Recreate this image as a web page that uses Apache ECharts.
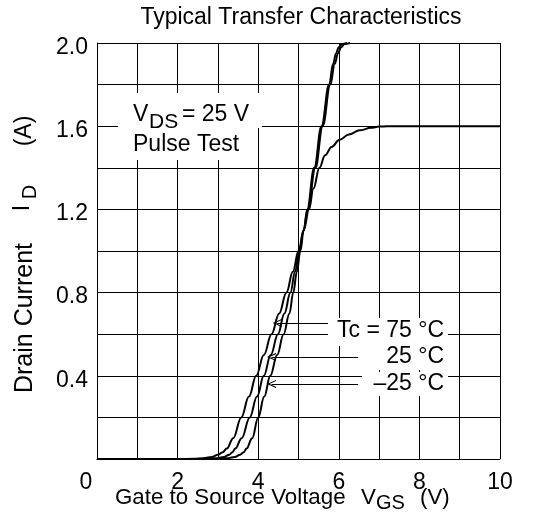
<!DOCTYPE html>
<html><head><meta charset="utf-8">
<script src="https://cdn.jsdelivr.net/npm/echarts@6/dist/echarts.min.js"></script>
<style>html,body{margin:0;padding:0;background:#fff}#c{width:538px;height:522px}</style>
</head><body><div id="c"></div>
<script>
// Tick labels
const xTicks = [0, 2, 4, 6, 8, 10];
const yTicks = [0.4, 0.8, 1.2, 1.6, 2.0];

// Tc = 75 °C
const vgs_75 = [0, 2.0, 2.4, 2.65, 2.85, 3.0, 3.12, 3.22, 3.38, 3.58, 3.77, 3.95, 4.14, 4.33, 4.52, 4.70, 4.86, 5.00, 5.13, 5.26, 5.37, 5.52, 5.66, 5.82, 6.02, 6.25, 6.52, 6.80, 7.00, 7.20, 10];
const id_75  = [0, 0, 0.001, 0.004, 0.010, 0.020, 0.033, 0.05, 0.10, 0.20, 0.30, 0.40, 0.50, 0.60, 0.70, 0.80, 0.90, 1.00, 1.10, 1.20, 1.30, 1.40, 1.46, 1.50, 1.535, 1.56, 1.58, 1.592, 1.598, 1.60, 1.60];
// Tc = 25 °C
const vgs_25 = [0, 2.3, 2.75, 2.98, 3.15, 3.28, 3.36, 3.43, 3.59, 3.79, 3.97, 4.14, 4.31, 4.49, 4.65, 4.80, 4.915, 5.02, 5.125, 5.23, 5.42, 5.60, 5.79, 5.90, 5.98, 6.06, 6.14, 6.28];
const id_25  = [0, 0, 0.001, 0.004, 0.010, 0.020, 0.033, 0.05, 0.10, 0.20, 0.30, 0.40, 0.50, 0.60, 0.70, 0.80, 0.90, 1.00, 1.10, 1.20, 1.40, 1.60, 1.80, 1.90, 1.95, 1.98, 1.995, 2.00];
// Tc = -25 °C
const vgs_m25 = [0, 2.6, 3.0, 3.25, 3.42, 3.55, 3.64, 3.71, 3.85, 4.00, 4.15, 4.30, 4.47, 4.63, 4.775, 4.87, 4.96, 5.045, 5.13, 5.215, 5.39, 5.57, 5.76, 5.86, 5.93, 6.00, 6.08, 6.20];
const id_m25  = [0, 0, 0.001, 0.004, 0.010, 0.020, 0.033, 0.05, 0.10, 0.20, 0.30, 0.40, 0.50, 0.60, 0.70, 0.80, 0.90, 1.00, 1.10, 1.20, 1.40, 1.60, 1.80, 1.90, 1.95, 1.98, 1.995, 2.00];

// Leader lines (label end VGS, arrow tip VGS, ID)
const leader_75  = [5.74, 4.47, 0.654];
const leader_25  = [6.48, 4.33, 0.490];
const leader_m25 = [6.48, 4.33, 0.361];

const F = "'Liberation Sans', Arial, Helvetica, sans-serif";
const FS = 23;
const zip = (xs, ys) => xs.map((x, i) => [x, ys[i]]);
const chart = echarts.init(document.getElementById('c'));

const lineSeries = (name, xs, ys) => ({
  name, type: 'line', data: zip(xs, ys), showSymbol: false, symbol: 'none',
  smooth: 0.4, smoothMonotone: 'x', silent: true,
  lineStyle: { color: '#000', width: 2 }, z: 4
});

const arrow = 'path://M0,10L5,0L10,10L8.6,10L5,2.8L1.4,10Z';
const ml = (l) => [{ coord: [l[0], l[2]] }, { coord: [l[1], l[2]] }];

const s0 = lineSeries('75', vgs_75, id_75);
s0.markLine = {
  silent: true, symbol: ['none', arrow], symbolSize: [8, 9],
  label: { show: false }, lineStyle: { color: '#000', width: 1, type: 'solid' },
  data: [ml(leader_75), ml(leader_25), ml(leader_m25)]
};

const T = (text, x, y, size, align, rot) => {
  const e = {
    type: 'text', x, y, z: 10,
    style: { text, fill: '#000', font: size + 'px ' + F, textAlign: align || 'left', textVerticalAlign: 'middle' }
  };
  if (rot) e.rotation = rot;
  return e;
};
const R = (x, y, w, h) => ({ type: 'rect', z: 9, shape: { x, y, width: w, height: h }, style: { fill: '#fff' } });
const UP = Math.PI / 2;

const option = {
  animation: false,
  backgroundColor: '#fff',
  grid: { left: 97, right: 38, top: 43, bottom: 63, show: false },
  xAxis: {
    type: 'value', min: 0, max: 10, interval: 1,
    axisLine: { show: true, onZero: false, lineStyle: { color: '#000', width: 1 } },
    axisTick: { show: false },
    splitLine: { show: true, lineStyle: { color: '#000', width: 1 } },
    axisLabel: {
      fontFamily: F, fontSize: FS, color: '#000', margin: 12,
      formatter: v => xTicks.includes(v) ? (v === 0 ? '{z|0}' : String(v)) : '',
      rich: { z: { fontFamily: F, fontSize: FS, color: '#000', padding: [0, 22, 0, 0] } }
    }
  },
  yAxis: {
    type: 'value', min: 0, max: 2, interval: 0.2,
    axisLine: { show: true, lineStyle: { color: '#000', width: 1 } },
    axisTick: { show: false },
    splitLine: { show: true, lineStyle: { color: '#000', width: 1 } },
    axisLabel: {
      fontFamily: F, fontSize: FS, color: '#000', margin: 9,
      formatter: v => yTicks.some(t => Math.abs(t - v) < 1e-6) ? '{a|' + v.toFixed(1) + '}' : '',
      rich: { a: { fontFamily: F, fontSize: FS, color: '#000', padding: [9, 0, 0, 0] } }
    }
  },
  series: [s0, lineSeries('25', vgs_25, id_25), lineSeries('-25', vgs_m25, id_m25)],
  graphic: [
    T('Typical Transfer Characteristics', 301, 18, FS, 'center'),
    R(118, 93, 144, 35),
    R(118, 128, 132, 32),
    T('V', 133, 115, FS),
    T('DS', 149, 122, 21),
    T('= 25 V', 182, 115, FS),
    T('Pulse Test', 133, 145, FS),
    R(328, 318, 120, 28),
    R(376, 346, 72, 24),
    R(362, 372, 86, 24),
    T('Tc = 75 °C', 444, 331, FS, 'right'),
    T('25 °C', 444, 357, FS, 'right'),
    T('–25 °C', 444, 384, FS, 'right'),
    T('Gate to Source Voltage', 115, 498, 22.3),
    T('V', 361, 498, 22.3),
    T('GS', 376, 503, 20),
    T('(V)', 420, 498, 22.3),
    T('Drain Current', 25, 318, 25, 'center', UP),
    T('I', 23, 208, FS, 'center', UP),
    T('D', 30, 192, 20, 'center', UP),
    T('(A)', 25, 131, FS, 'center', UP)
  ]
};
chart.setOption(option);
</script>
</body></html>
